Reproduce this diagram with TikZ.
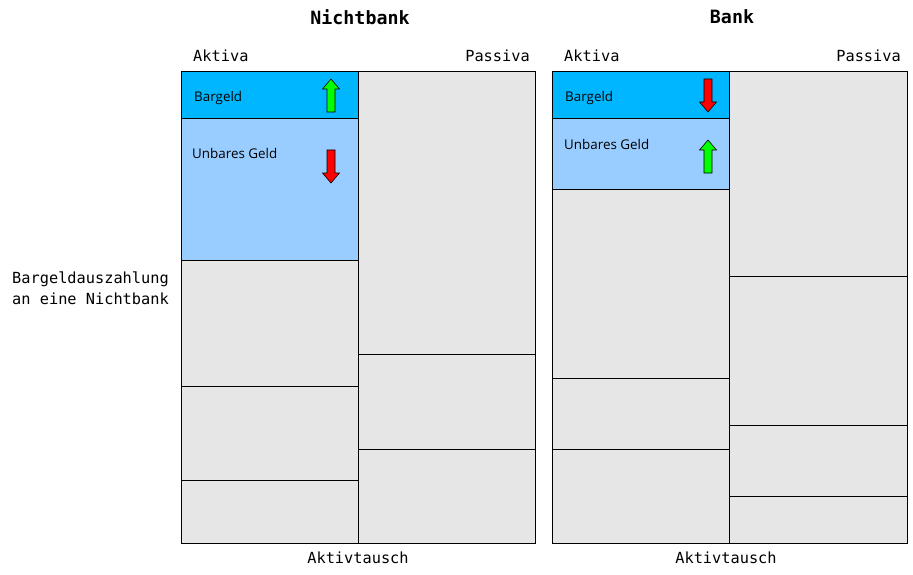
\documentclass[tikz,border=0pt]{standalone}
\usepackage{fontspec}
\setmainfont{Open Sans}
\setmonofont{DejaVu Sans Mono}
\definecolor{cash}{RGB}{0,183,255}
\definecolor{noncash}{RGB}{153,204,255}
\definecolor{grayfill}{RGB}{230,230,230}
\definecolor{upgreen}{RGB}{0,255,0}
\definecolor{downred}{RGB}{255,0,0}
\begin{document}
\begin{tikzpicture}[x=1pt,y=-1pt,
  cell/.style={draw=black,line width=0.8pt},
  mono/.style={font=\ttfamily\fontsize{15.3}{17}\selectfont,inner sep=0pt},
  title/.style={font=\ttfamily\bfseries\fontsize{18.3}{20}\selectfont,inner sep=0pt},
  lab/.style={font=\fontsize{13.4}{15}\selectfont,inner sep=0pt,anchor=west},
]
\useasboundingbox (0,0) rectangle (913,575);
% up arrow: center x, top y
\newcommand{\uparr}[2]{\filldraw[fill=upgreen,draw=black,line width=0.6pt] (#1-4,#2+33) -- (#1-4,#2+10) -- (#1-8.5,#2+10) -- (#1,#2) -- (#1+8.5,#2+10) -- (#1+4,#2+10) -- (#1+4,#2+33) -- cycle;}
\newcommand{\downarr}[2]{\filldraw[fill=downred,draw=black,line width=0.6pt] (#1-4,#2) -- (#1-4,#2+23) -- (#1-8.5,#2+23) -- (#1,#2+33) -- (#1+8.5,#2+23) -- (#1+4,#2+23) -- (#1+4,#2) -- cycle;}

% ---- Nichtbank ----
\filldraw[cell,fill=cash] (181,71) rectangle (358,118);
\filldraw[cell,fill=noncash] (181,118) rectangle (358,260);
\filldraw[cell,fill=grayfill] (181,260) rectangle (358,386);
\filldraw[cell,fill=grayfill] (181,386) rectangle (358,480);
\filldraw[cell,fill=grayfill] (181,480) rectangle (358,543);
\filldraw[cell,fill=grayfill] (358,71) rectangle (535,354);
\filldraw[cell,fill=grayfill] (358,354) rectangle (535,449);
\filldraw[cell,fill=grayfill] (358,449) rectangle (535,543);
\uparr{331}{79}
\downarr{331}{150}

% ---- Bank ----
\filldraw[cell,fill=cash] (552,71) rectangle (729,118);
\filldraw[cell,fill=noncash] (552,118) rectangle (729,189);
\filldraw[cell,fill=grayfill] (552,189) rectangle (729,378);
\filldraw[cell,fill=grayfill] (552,378) rectangle (729,449);
\filldraw[cell,fill=grayfill] (552,449) rectangle (729,543);
\filldraw[cell,fill=grayfill] (729,71) rectangle (907,276);
\filldraw[cell,fill=grayfill] (729,276) rectangle (907,425);
\filldraw[cell,fill=grayfill] (729,425) rectangle (907,496);
\filldraw[cell,fill=grayfill] (729,496) rectangle (907,543);
\downarr{708}{79}
\uparr{708}{140}

% ---- texts ----
\node[title] (t1) at (360,17) {Nichtbank};
\node[title] (t2) at (732,17) {Bank};
\node[mono,anchor=west] (a1) at (193,56) {Aktiva};
\node[mono,anchor=east] (p1) at (530,56) {Passiva};
\node[mono,anchor=west] (a2) at (564,56) {Aktiva};
\node[mono,anchor=east] (p2) at (901,56) {Passiva};
\node[mono] (x1) at (358,558) {Aktivtausch};
\node[mono] (x2) at (726,558) {Aktivtausch};
\node[mono,anchor=west] (d1) at (12,279) {Bargeldauszahlung};
\node[mono,anchor=west] (d2) at (12,299) {an eine Nichtbank};
\node[lab] (b1) at (194,98) {Bargeld};
\node[lab] (u1) at (192,153) {Unbares Geld};
\node[lab] (b2) at (565,98) {Bargeld};
\node[lab] (u2) at (564,144) {Unbares Geld};
\end{tikzpicture}
\end{document}
